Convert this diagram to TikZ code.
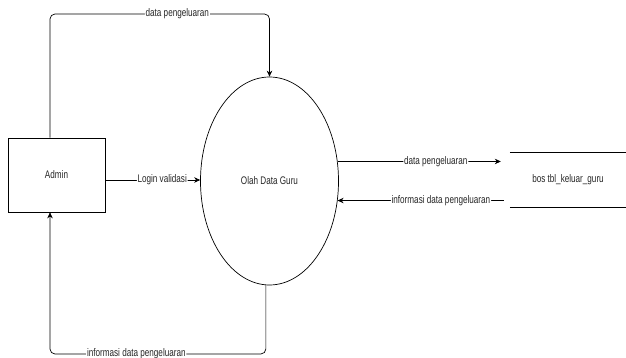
\documentclass[tikz,border=0pt]{standalone}
\usepackage{fontspec}
\setmainfont{Liberation Sans}[FakeStretch=0.74]
\usetikzlibrary{shapes.geometric,arrows.meta}
\begin{document}
\begin{tikzpicture}[x=1pt,y=-1pt,
  font=\fontsize{11}{13}\selectfont,
  flow/.style={draw=black,line width=0.7pt,-{Stealth[length=6pt,width=5.5pt]},rounded corners=5pt},
  lbl/.style={fill=white,inner sep=0.8pt,text=black!85},
  entity/.style={draw=black,line width=0.7pt,minimum width=97pt,minimum height=74pt,inner sep=0pt},
  process/.style={draw=black,line width=0.7pt,ellipse,minimum width=138pt,minimum height=208pt,inner sep=0pt},
  storebox/.style={minimum width=116pt,minimum height=54pt,inner sep=0pt}]
\useasboundingbox (0,0) rectangle (626,358);
\node[entity,text=black!85] (admin) at (56.5,175) {Admin};
\node[process,text=black!85] (olah) at (269.5,181) {Olah Data Guru};
\node[storebox,text=black!85] (store) at (568,180) {bos tbl\_keluar\_guru};
\draw[line width=0.7pt] (store.north west) -- (store.north east);
\draw[line width=0.7pt] (store.south west) -- (store.south east);
\coordinate (tl) at (50,14);
\coordinate (bl) at (50,354);
% top
\draw[flow] (admin.north -| tl) -- (tl) -- node[lbl,pos=0.58]{data pengeluaran} (tl -| olah.north) -- (olah.north);
% bottom
\draw[flow] (olah.268) -- (olah.268 |- bl) -- node[lbl,pos=0.6]{informasi data pengeluaran} (bl) -- (admin.south -| bl);
% login
\draw[flow] (admin.east |- 0,180) -- node[lbl,pos=0.6]{Login validasi} (olah.west |- 0,180);
% right arrows
\draw[flow,shorten >=9pt] (olah.16) -- node[lbl,pos=0.57]{data pengeluaran} (olah.16 -| store.west);
\draw[flow,shorten <=6pt] (olah.-16 -| store.west) -- node[lbl,pos=0.4]{informasi data pengeluaran} (olah.-16);
\end{tikzpicture}
\end{document}
